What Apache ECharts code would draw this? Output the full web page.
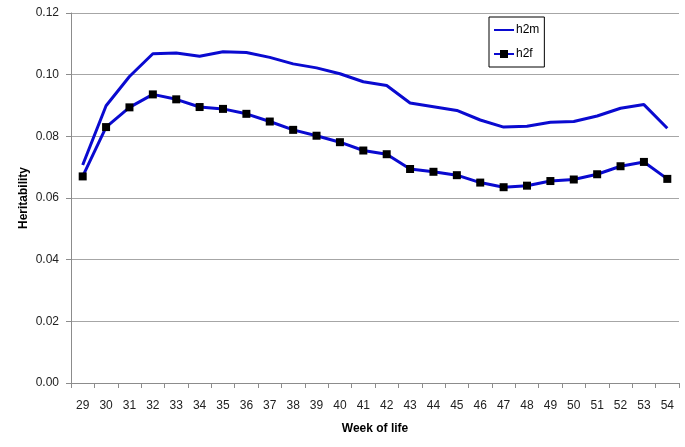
<!DOCTYPE html>
<html>
<head>
<meta charset="utf-8">
<script src="https://cdn.jsdelivr.net/npm/echarts@6/dist/echarts.min.js"></script>
<style>
  html, body { margin: 0; padding: 0; background: #fff; }
  #chart { width: 685px; height: 447px; }
</style>
</head>
<body>
<div id="chart"></div>
<script>
// weeks of life on the x axis
const weeks = ['29','30','31','32','33','34','35','36','37','38','39','40','41','42','43','44','45','46','47','48','49','50','51','52','53','54'];
// heritability estimates
const h2m = [0.0707,0.0899,0.0994,0.1068,0.1070,0.1060,0.1074,0.1072,0.1056,0.1035,0.1022,0.1003,0.0977,0.0965,0.0908,0.0896,0.0884,0.0853,0.0830,0.0833,0.0846,0.0848,0.0866,0.0891,0.0903,0.0826];
const h2f = [0.0670,0.0830,0.0894,0.0936,0.0920,0.0895,0.0889,0.0873,0.0848,0.0821,0.0802,0.0781,0.0754,0.0742,0.0694,0.0685,0.0674,0.0650,0.0635,0.0640,0.0655,0.0660,0.0677,0.0703,0.0717,0.0662];

const lineColor = '#0a0ad0';
const font = 'Liberation Sans';

const chart = echarts.init(document.getElementById('chart'));
chart.setOption({
    backgroundColor: '#FFFFFF',
    animation: false,
    textStyle: { fontFamily: font },
    grid: { left: 71, right: 6, top: 13, bottom: 64, containLabel: false },
    legend: {
        left: 489, top: 17,
        orient: 'vertical',
        itemGap: 12,
        itemWidth: 20, itemHeight: 10,
        padding: [7, 5, 7, 4],
        borderColor: '#000', borderWidth: 1,
        textStyle: { fontFamily: font, fontSize: 12, color: '#000', padding: [0, 0, 0, -3] },
        data: [
            { name: 'h2m', icon: 'path://M0,4 L20,4 L20,6 L0,6 Z', itemStyle: { color: lineColor } },
            { name: 'h2f' }
        ]
    },
    xAxis: {
        type: 'category',
        data: weeks,
        boundaryGap: true,
        name: 'Week of life',
        nameLocation: 'middle',
        nameGap: 40,
        nameMoveOverlap: false,
        nameTextStyle: { fontFamily: font, fontSize: 12, fontWeight: 'bold', color: '#000' },
        axisLine: { lineStyle: { color: '#8c8c8c', width: 1 } },
        axisTick: { show: true, length: 5, alignWithLabel: false, lineStyle: { color: '#8c8c8c' } },
        axisLabel: { fontFamily: font, fontSize: 12, color: '#222', margin: 17 }
    },
    yAxis: {
        type: 'value',
        min: 0, max: 0.12, interval: 0.02,
        name: 'Heritability',
        nameLocation: 'middle',
        nameGap: 41,
        nameMoveOverlap: false,
        nameTextStyle: { fontFamily: font, fontSize: 12, fontWeight: 'bold', color: '#000' },
        axisLine: { show: true, lineStyle: { color: '#8c8c8c', width: 1 } },
        axisTick: { show: true, inside: false, length: 5, lineStyle: { color: '#8c8c8c' } },
        axisLabel: { fontFamily: font, fontSize: 12, color: '#222', margin: 12,
            formatter: v => v.toFixed(2) },
        splitLine: { lineStyle: { color: '#a6a6a6', width: 1 } }
    },
    series: [{
        name: 'h2m',
        type: 'line',
        data: h2m,
        symbol: 'none',
        lineStyle: { color: lineColor, width: 3 },
        itemStyle: { color: lineColor }
    }, {
        name: 'h2f',
        type: 'line',
        data: h2f,
        symbol: 'rect',
        symbolSize: 8,
        showAllSymbol: true,
        lineStyle: { color: lineColor, width: 3 },
        itemStyle: { color: '#000' }
    }]
});
</script>
</body>
</html>
